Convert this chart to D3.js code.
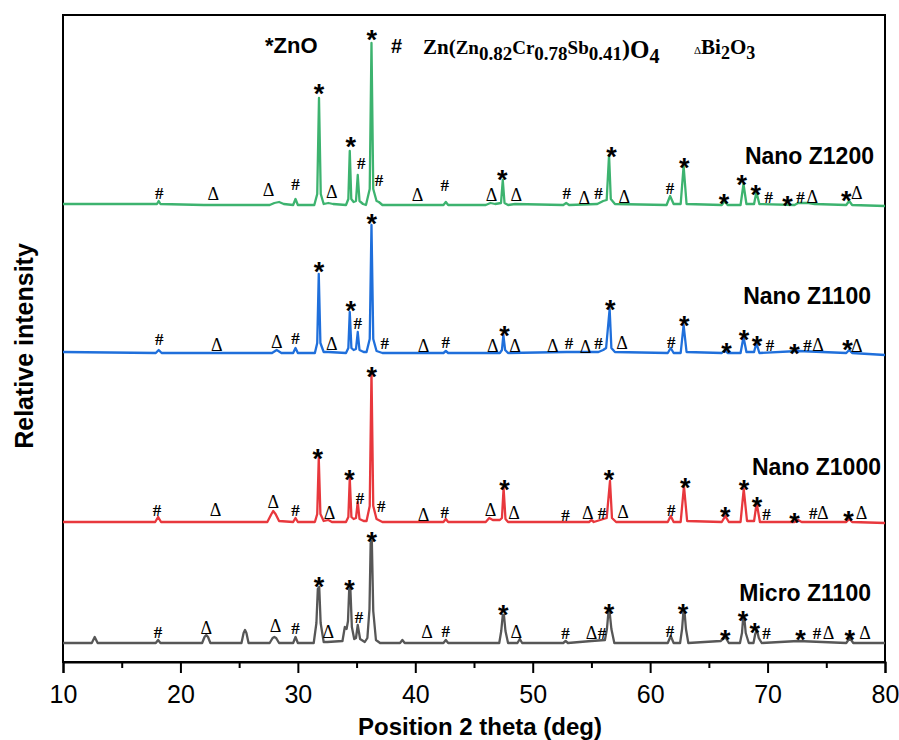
<!DOCTYPE html>
<html>
<head>
<meta charset="utf-8">
<script src="https://cdn.jsdelivr.net/npm/d3@7"></script>
<style>
  body { margin: 0; background: #fff; }
  svg { display: block; }
  .sans { font-family: "Liberation Sans", Arial, sans-serif; }
  .serif { font-family: "Liberation Serif", "Times New Roman", serif; }
</style>
</head>
<body>
<svg id="chart" width="899" height="740"></svg>
<script>
// ------- data -------
// 2 theta ticks
var xTicks = [10, 20, 30, 40, 50, 60, 70, 80];
var xMinorTicks = [15, 25, 35, 45, 55, 65, 75];

var sampleNames = ["Micro Z1100", "Nano Z1000", "Nano Z1100", "Nano Z1200"];
// vertical stacking offset of each pattern (a.u.)
var sampleOffsets = [19, 140, 309, 457];

// patterns: [2theta, relative intensity]
var microZ1100 = [[10,0],[12.45,0],[12.7,6],[12.95,0],[17.9,0],[18.1,3],[18.3,0],[21.85,0],[22.05,6],[22.2,8],[22.35,6],[22.55,0],
  [25.2,0],[25.38,10],[25.5,13],[25.62,10],[25.8,0],[27.6,0],[27.85,5],[28.0,6],[28.15,5],[28.4,0],[29.6,0],[29.8,6],[30.0,0],
  [31.35,0],[31.58,20],[31.7,54],[31.82,56],[31.94,20],[32.2,1],[32.5,1],[33.8,2],[34.0,16],[34.15,14],[34.27,22],
  [34.37,53],[34.47,55],[34.6,16],[34.8,4],[34.95,5],[35.1,18],[35.3,4],[35.7,1],[35.92,5],[36.1,34],[36.2,100],[36.3,102],
  [36.42,32],[36.65,3],[37.0,0],[38.7,0],[38.9,3],[39.1,0],[42.4,0],[42.6,3],[42.8,0],
  [47.15,0],[47.32,12],[47.45,28],[47.55,28],[47.68,12],[47.9,0],[48.7,0],[48.9,4],[49.1,0],[52.6,0],[52.8,2],[53.0,0],
  [55.0,2],[56.15,3],[56.32,14],[56.45,31],[56.55,31],[56.7,14],[56.95,0],[61.5,0],[61.75,7],[62.0,0],
  [62.55,0],[62.72,14],[62.83,31],[62.93,31],[63.05,14],[63.25,0],[66.0,2],[66.4,6],[66.7,0],
  [67.65,0],[67.82,10],[67.92,25],[68.02,25],[68.14,10],[68.4,0],[68.8,0],[68.95,9],[69.1,13],[69.25,5],[69.5,0],
  [72.6,2],[76.7,0],[77.0,5],[77.3,0],[80,0]];

var nanoZ1000 = [[10,0],[17.85,0],[18.1,5],[18.35,0],[27.4,0],[27.75,8],[27.9,11],[28.1,8],[28.4,1],
  [29.6,0],[29.8,4],[30.0,0],[31.45,0],[31.65,8],[31.78,64],[31.92,8],[32.2,1],[32.6,2],[32.9,0],
  [34.1,0],[34.3,5],[34.42,44],[34.56,5],[34.75,3],[34.95,4],[35.1,20],[35.25,3],[35.6,1],[35.85,1],
  [36.12,16],[36.27,150],[36.42,16],[36.7,3],[37.2,0],[42.4,0],[42.6,3],[42.8,0],[46.0,0],[46.3,4],
  [46.6,2],[47.2,2],[47.38,4],[47.52,34],[47.68,3],[47.9,0],[54.8,0],[55.0,2],[55.2,0],[56.3,4],
  [56.58,41],[56.75,4],[57.1,0],[61.5,0],[61.75,6],[62.0,0],[62.6,0],[62.88,36],[63.15,1],
  [66.1,0],[66.4,6],[66.7,0],[67.7,0],[67.97,33],[68.25,1],[68.85,1],[69.07,19],[69.35,0],
  [72.3,0],[72.6,2],[72.9,0],[76.7,0],[76.95,3],[77.2,0],[80,-1]];

var nanoZ1100 = [[10,1],[17.9,0],[18.15,3],[18.4,0],[27.8,0],[28.2,3],[28.6,0],[29.6,0],[29.8,5],[30.0,0],
  [31.45,0],[31.65,10],[31.78,79],[31.92,10],[32.2,1],[32.6,1],[34.1,0],[34.3,5],[34.42,41],[34.56,5],
  [34.75,3],[34.95,4],[35.1,21],[35.25,3],[35.6,1],[35.85,1],[36.12,14],[36.27,128],[36.42,14],[36.7,2],
  [37.2,0],[42.4,0],[42.6,2],[42.8,0],[47.2,0],[47.38,3],[47.5,18],[47.65,3],[47.9,0],[52.9,1],
  [55.6,1],[56.0,3],[56.25,5],[56.55,44],[56.7,5],[57.0,1],[61.5,0],[61.75,5],[62.0,0],[62.6,0],
  [62.85,28],[63.1,1],[66.1,0],[66.35,3],[66.6,0],[67.7,0],[67.95,16],[68.2,1],[68.85,1],[69.05,10],
  [69.3,0],[72.6,2],[76.7,0],[76.95,3],[77.2,0],[80,-2]];

var nanoZ1200 = [[10,1],[17.8,1],[18.0,1],[18.15,4],[18.3,1],[22,0],[27.6,0],[28.0,2],[28.4,3],[28.8,1],
  [29.6,0],[29.8,6],[30.0,0],[31.4,0],[31.65,11],[31.8,107],[31.95,11],[32.2,1],[32.6,2],[33.0,1],
  [34.1,0],[34.3,6],[34.42,54],[34.55,6],[34.75,3],[34.95,4],[35.1,30],[35.25,4],[35.55,1],[35.8,0],
  [36.12,16],[36.27,162],[36.42,16],[36.7,4],[36.9,3],[37.2,0],[42.4,0],[42.6,3],[42.8,0],[46.0,0],
  [46.4,2],[46.8,1],[47.3,2],[47.45,25],[47.6,2],[47.9,0],[48.5,1],[52.6,0],[52.85,2],[53.1,0],
  [55.5,1],[56.0,4],[56.3,5],[56.5,50],[56.65,6],[57.0,1],[61.4,0],[61.7,9],[62.0,1],[62.6,1],
  [62.85,39],[63.1,1],[66.1,0],[66.35,4],[66.6,0],[67.7,0],[67.95,21],[68.2,1],[68.85,1],[69.05,13],
  [69.3,1],[72.3,0],[72.6,2],[73.5,2],[74.0,1],[76.7,0],[76.95,4],[77.2,0],[80,-1]];

// phase marks: [2theta, symbol, height of mark above the pattern baseline]
var microMarks = [[18.1,'#',11],[22.2,'Δ',15],[28.1,'Δ',17],[29.8,'#',15],[31.8,'*',63],[32.6,'Δ',11],
  [34.4,'*',60],[35.2,'#',26],[36.3,'*',108],[41.0,'Δ',11],[42.6,'#',12],[47.5,'*',35],[48.6,'Δ',11],
  [52.8,'#',10],[55.0,'Δ',10],[55.9,'#',10],[56.5,'*',36],[61.7,'#',12],[62.8,'*',36],[66.4,'*',10],
  [67.9,'*',29],[68.9,'*',17],[69.9,'#',10],[72.8,'*',10],[74.2,'#',10],[75.2,'Δ',10],[77.0,'*',10],[78.3,'Δ',10]];

var z1000Marks = [[18.0,'#',12],[23.0,'Δ',12],[27.9,'Δ',20],[29.8,'#',12],[31.7,'*',70],[32.7,'Δ',9],
  [34.4,'*',49],[35.3,'#',24],[36.3,'*',152],[37.1,'#',16],[40.7,'Δ',7],[42.5,'#',10],[46.4,'Δ',12],
  [47.6,'*',39],[48.4,'Δ',9],[52.8,'#',7],[54.7,'Δ',9],[55.9,'#',9],[56.5,'*',49],[57.7,'Δ',10],
  [61.8,'#',12],[63.0,'*',41],[66.4,'*',12],[68.0,'*',39],[69.1,'*',22],[69.9,'#',8],[72.3,'*',6],
  [73.9,'#',9],[74.7,'Δ',9],[76.9,'*',8],[78.0,'Δ',9]];

var z1100Marks = [[18.2,'#',14],[23.1,'Δ',8],[28.2,'Δ',11],[29.8,'#',15],[31.8,'*',88],[32.9,'Δ',9],
  [34.5,'*',49],[35.1,'#',30],[36.3,'*',136],[37.4,'#',10],[40.7,'Δ',7],[42.6,'#',11],[46.6,'Δ',7],
  [47.6,'*',24],[48.5,'Δ',7],[51.7,'Δ',7],[53.1,'#',10],[54.5,'Δ',6],[55.6,'#',10],[56.6,'*',50],
  [57.6,'Δ',10],[61.8,'#',11],[62.9,'*',34],[66.5,'*',7],[68.0,'*',20],[69.1,'*',14],[70.2,'#',8],
  [72.3,'*',6],[73.4,'#',8],[74.3,'Δ',8],[76.8,'*',10],[77.6,'Δ',7]];

var z1200Marks = [[18.2,'#',12],[22.8,'Δ',11],[27.5,'Δ',15],[29.8,'#',21],[31.8,'*',118],[32.9,'Δ',13],
  [34.5,'*',65],[35.4,'#',42],[36.3,'*',172],[36.9,'#',25],[40.2,'Δ',10],[42.5,'#',20],[46.5,'Δ',10],
  [47.4,'*',32],[48.6,'Δ',10],[52.9,'#',12],[54.4,'Δ',7],[55.6,'#',12],[56.7,'*',55],[57.8,'Δ',8],
  [61.7,'#',17],[62.9,'*',44],[66.3,'*',8],[67.8,'*',27],[69.0,'*',17],[70.1,'#',8],[71.7,'*',6],
  [72.8,'#',8],[73.8,'Δ',8],[76.7,'*',11],[77.6,'Δ',12]];

var patterns = [microZ1100, nanoZ1000, nanoZ1100, nanoZ1200];
var marks = [microMarks, z1000Marks, z1100Marks, z1200Marks];

// ------- layout -------
var svg = d3.select("#chart");
var plotL = 63, plotR = 885, plotT = 15, plotB = 662;
var colors = ["#575757", "#e8383d", "#1f6fdb", "#3db36f"];
// where each sample name sits: [right edge x, baseline y]
var namePos = [[871, 601], [881, 475], [871, 304], [874, 164]];

var x = d3.scaleLinear().domain([10, 80]).range([plotL, plotR]);
var y = d3.scaleLinear().domain([0, 647]).range([plotB, plotT]);

// frame
svg.append("rect")
    .attr("x", plotL).attr("y", plotT)
    .attr("width", plotR - plotL).attr("height", plotB - plotT)
    .attr("fill", "none").attr("stroke", "#000").attr("stroke-width", 2);

// x axis, major + minor ticks
var xAxis = d3.axisBottom(x).tickValues(xTicks).tickSize(11).tickPadding(12);
var gx = svg.append("g").attr("transform", "translate(0," + plotB + ")").call(xAxis);
gx.select(".domain").attr("stroke-width", 2);
gx.selectAll(".tick line").attr("stroke-width", 2);
gx.selectAll(".tick text").attr("class", "sans").style("font-size", "25px").attr("fill", "#000");

var gm = svg.append("g").attr("transform", "translate(0," + plotB + ")")
    .call(d3.axisBottom(x).tickValues(xMinorTicks).tickSize(6).tickFormat(""));
gm.select(".domain").remove();
gm.selectAll(".tick line").attr("stroke-width", 2);

// axis titles
svg.append("text").attr("class", "sans")
    .attr("x", 480).attr("y", 735)
    .attr("text-anchor", "middle")
    .style("font-size", "24px").style("font-weight", "bold")
    .text("Position 2 theta (deg)");

svg.append("text").attr("class", "sans")
    .attr("transform", "translate(33,346)rotate(-90)")
    .attr("text-anchor", "middle")
    .style("font-size", "25px").style("font-weight", "bold")
    .text("Relative intensity");

// patterns
var line = d3.line()
    .x(function (d) { return x(d[0]); });

patterns.forEach(function (data, i) {
    var off = sampleOffsets[i];
    svg.append("path")
        .datum(data)
        .attr("fill", "none")
        .attr("stroke", colors[i])
        .attr("stroke-width", 2.3)
        .attr("stroke-linejoin", "round")
        .attr("d", line.y(function (d) { return y(d[1] + off); }));

    svg.append("text").attr("class", "sans")
        .attr("x", namePos[i][0]).attr("y", namePos[i][1])
        .attr("text-anchor", "end")
        .style("font-size", "23px").style("font-weight", "bold")
        .text(sampleNames[i]);
});

// phase marks above the peaks
var markStyle = {
    "*": { cls: "sans", size: 27, weight: "bold", shift: 15.5 },
    "#": { cls: "serif", size: 17, weight: "bold", shift: 5.8 },
    "Δ": { cls: "serif", size: 18, weight: "normal", shift: 6 }
};

marks.forEach(function (list, i) {
    var off = sampleOffsets[i];
    svg.append("g").selectAll("text")
        .data(list)
        .enter()
        .append("text")
        .attr("class", function (d) { return markStyle[d[1]].cls; })
        .attr("x", function (d) { return x(d[0]); })
        .attr("y", function (d) { return y(off) - d[2] + markStyle[d[1]].shift; })
        .attr("text-anchor", "middle")
        .style("font-size", function (d) { return markStyle[d[1]].size + "px"; })
        .style("font-weight", function (d) { return markStyle[d[1]].weight; })
        .text(function (d) { return d[1]; });
});

// phase legend at the top
svg.append("text").attr("class", "sans")
    .attr("x", 265).attr("y", 53)
    .style("font-size", "22px").style("font-weight", "bold")
    .text("*ZnO");

svg.append("text").attr("class", "sans")
    .attr("x", 391).attr("y", 53)
    .style("font-size", "20px").style("font-weight", "bold")
    .text("#");

var formula = svg.append("text").attr("class", "serif")
    .attr("x", 423).attr("y", 54)
    .style("font-weight", "bold");
var parts = [
    ["Zn(", 21, 0], ["Zn", 19, 0], ["0.82", 19, 6], ["Cr", 19, -6], ["0.78", 19, 6],
    ["Sb", 19, -6], ["0.41", 19, 6], [")", 24, -4], ["O", 25, 2], ["4", 20, 5]
];
parts.forEach(function (p) {
    formula.append("tspan")
        .style("font-size", p[1] + "px")
        .attr("dy", p[2])
        .text(p[0]);
});

var bi = svg.append("text").attr("class", "serif")
    .attr("x", 694).attr("y", 54)
    .style("font-weight", "bold");
[["Δ", 11, 0], ["Bi", 21, 0], ["2", 18, 5], ["O", 21, -5], ["3", 18, 5]].forEach(function (p) {
    bi.append("tspan")
        .style("font-size", p[1] + "px")
        .style("font-weight", p[0] === "Δ" ? "normal" : "bold")
        .attr("dy", p[2])
        .text(p[0]);
});
</script>
</body>
</html>
